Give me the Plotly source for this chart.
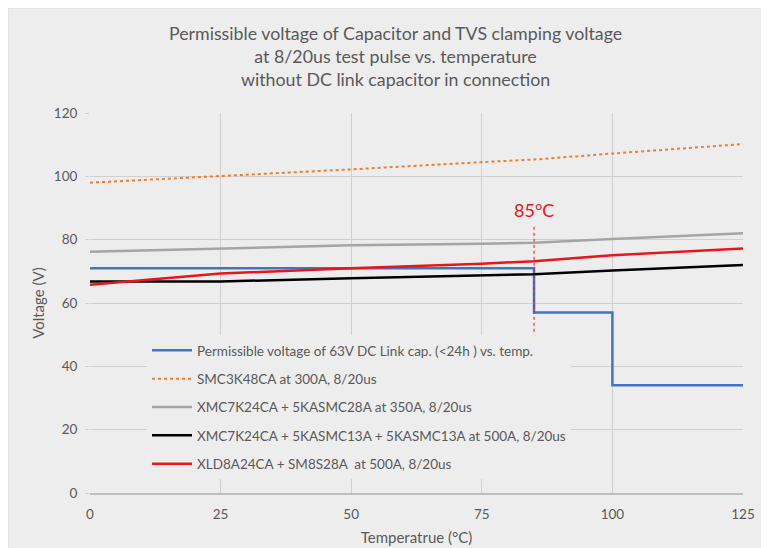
import plotly.graph_objects as go

temps = [0, 25, 50, 75, 85, 100, 125]

cap_x = [0, 85, 85, 100, 100, 125]
cap_v = [71, 71, 57, 57, 34, 34]

smc3k48 = [98, 100, 102.2, 104.5, 105.3, 107.2, 110.2]
xmc_28 = [76.2, 77.2, 78.2, 78.7, 79.0, 80.2, 82.0]
xmc_13 = [66.8, 66.8, 67.8, 68.6, 69.1, 70.3, 72.0]
xld8 = [65.8, 69.3, 71.0, 72.4, 73.2, 75.1, 77.2]

names = [
    "Permissible voltage of 63V DC Link cap. (<24h ) vs. temp.",
    "SMC3K48CA at 300A, 8/20us",
    "XMC7K24CA + 5KASMC28A at 350A, 8/20us",
    "XMC7K24CA + 5KASMC13A + 5KASMC13A at 500A, 8/20us",
    "XLD8A24CA + SM8S28A  at 500A, 8/20us",
]

marker_x = 85
marker_y = [49, 85]
marker_label = "85°C"

title_lines = [
    "Permissible voltage of Capacitor and TVS clamping voltage",
    "at 8/20us test pulse vs. temperature",
    "without DC link capacitor in connection",
]

BG = "#ededed"
TXT = "#595959"
FONT = "Lato, Carlito, Calibri, sans-serif"

fig = go.Figure()
fig.add_trace(go.Scatter(x=cap_x, y=cap_v, mode="lines", name=names[0],
                         line=dict(color="#4472c4", width=2.5), legendgroup="a"))
fig.add_trace(go.Scatter(x=temps, y=smc3k48, mode="lines", name=names[1],
                         line=dict(color="#ed7d31", width=2, dash="dot"), legendgroup="b"))
fig.add_trace(go.Scatter(x=temps, y=xmc_28, mode="lines", name=names[2],
                         line=dict(color="#a5a5a5", width=2.5), legendgroup="c"))
fig.add_trace(go.Scatter(x=temps, y=xmc_13, mode="lines", name=names[3],
                         line=dict(color="#000000", width=2.5), legendgroup="d"))
fig.add_trace(go.Scatter(x=temps, y=xld8, mode="lines", name=names[4],
                         line=dict(color="#e8161b", width=2.5), legendgroup="e"))

fig.add_shape(type="line", xref="x", yref="y", x0=marker_x, x1=marker_x,
              y0=marker_y[0], y1=marker_y[1],
              line=dict(color="#e8161b", width=1, dash="3px,3px"), layer="above")
fig.add_annotation(x=marker_x, y=marker_y[1] + 4.5, xref="x", yref="y",
                   text=marker_label, showarrow=False,
                   font=dict(family=FONT, size=18, color="#e8161b"))

# thin frame around the chart area
fig.add_shape(type="rect", xref="paper", yref="paper",
              x0=-82 / 653, x1=(769 - 82) / 653,
              y0=-63 / 380, y1=(380 + 105) / 380,
              fillcolor="rgba(0,0,0,0)", line=dict(color="#d9d9d9", width=1), layer="below")

fig.update_layout(
    width=769, height=548,
    margin=dict(l=82, r=34, t=105, b=63),
    paper_bgcolor=BG, plot_bgcolor=BG,
    font=dict(family=FONT, color=TXT, size=13),
    title=dict(text="<br>".join(title_lines), x=0.504, xanchor="center",
               y=1 - 32 / 548, yanchor="top", yref="container",
               font=dict(family=FONT, size=17.8, color=TXT)),
    showlegend=True,
    legend=dict(x=(139 - 82) / 653, y=(485 - 327) / 380, xanchor="left", yanchor="top",
                bgcolor=BG, borderwidth=0, traceorder="grouped", tracegroupgap=7.8,
                font=dict(family=FONT, size=13.5, color=TXT), itemwidth=40),
    xaxis=dict(range=[0, 125], tickvals=[0, 25, 50, 75, 100, 125],
               showgrid=True, gridcolor="#d0d0d0", gridwidth=1,
               zeroline=False, showline=True, linecolor="#bfbfbf", linewidth=1.5,
               ticks="", ticklabelstandoff=8, tickfont=dict(size=13.5, color=TXT),
               title=dict(text="Temperatrue (°C)", font=dict(size=15, color=TXT), standoff=12)),
    yaxis=dict(range=[0, 120], tickvals=[0, 20, 40, 60, 80, 100, 120],
               showgrid=True, gridcolor="#d0d0d0", gridwidth=1,
               zeroline=False, showline=False,
               ticks="outside", ticklen=4, tickcolor="#d0d0d0", ticklabelstandoff=5,
               tickfont=dict(size=13.5, color=TXT),
               title=dict(text="Voltage (V)", font=dict(size=15, color=TXT), standoff=5)),
)

fig.write_html("out.html")
